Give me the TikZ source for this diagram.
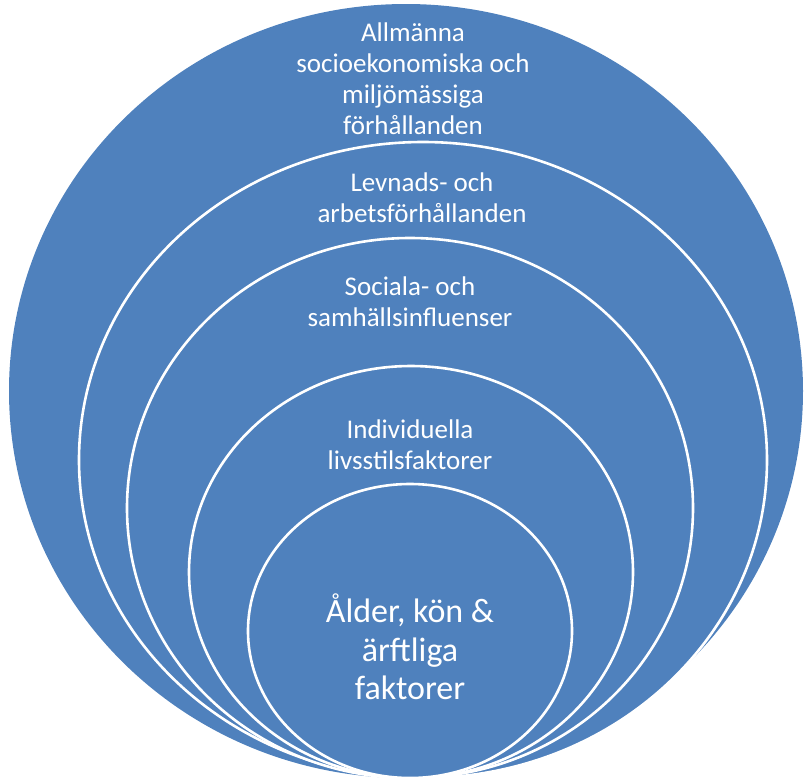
\documentclass[tikz,border=0pt]{standalone}
\usepackage{fontspec}
\setmainfont{Carlito}
\definecolor{ringblue}{HTML}{4F81BD}
\begin{document}
\begin{tikzpicture}[x=1pt,y=-1pt,
  ring/.style={fill=ringblue,draw=white,line width=2.6pt},
  lbl/.style={text=white,align=center,inner sep=0pt,font=\fontsize{27}{31}\selectfont},
  biglbl/.style={text=white,align=center,inner sep=0pt,font=\fontsize{34}{38.5}\selectfont}]
\useasboundingbox (0,0) rectangle (804,780);
\fill[ringblue] (406,391) ellipse [x radius=397, y radius=387];
\draw[ring] (423,460) ellipse [x radius=344, y radius=318];
\draw[ring] (410,508) ellipse [x radius=283, y radius=270];
\draw[ring] (411,572) ellipse [x radius=222, y radius=206];
\draw[ring] (410,631) ellipse [x radius=162, y radius=147];
\node[lbl] (t1) at (413,79) {Allmänna\\socioekonomiska och\\miljömässiga\\förhållanden};
\node[lbl] (t2) at (422,198) {Levnads- och\\arbetsförhållanden};
\node[lbl] (t3) at (410,302) {Sociala- och\\samhällsinfluenser};
\node[lbl] (t4) at (410,445) {Individuella\\livsstilsfaktorer};
\node[biglbl] (t5) at (410,647) {Ålder, kön \&\\ärftliga\\faktorer};
\end{tikzpicture}
\end{document}
